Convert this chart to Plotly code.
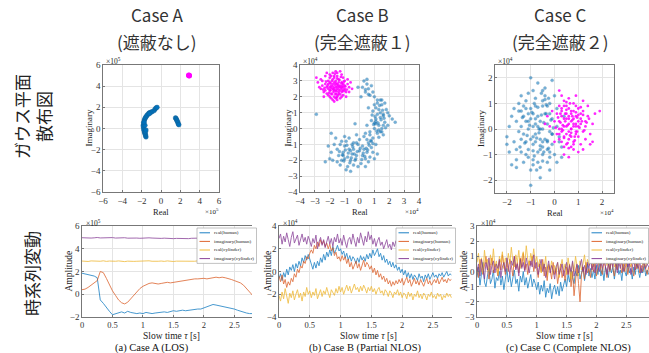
import plotly.graph_objects as go

# ---------------- DATA ----------------
# Case A scatter (x1e5)
A_hum_re = [-1.55,-1.6,-1.6,-1.65,-1.7,-1.7,-1.75,-1.8,-1.8,-1.85,-1.8,-1.8,-1.75,-1.7,-1.65,-1.6,-1.5,-1.45,-1.35,-1.25,-1.15,-1.0,-0.9,-0.7,-0.6,-0.5,-0.4,-1.6,-1.55,-1.65,-1.75,-1.2,
            1.5,1.55,1.6,1.65,1.7,1.75,1.8,1.85]
A_hum_im = [-0.8,-0.7,-0.6,-0.5,-0.4,-0.3,-0.2,-0.05,0.1,0.25,0.4,0.55,0.7,0.85,0.95,1.05,1.15,1.25,1.35,1.45,1.5,1.55,1.6,1.7,1.85,1.95,2.0,-0.3,-0.15,0.3,0.6,1.4,
            1.0,0.95,0.85,0.75,0.65,0.55,0.4,0.35]
A_cyl_re = [2.9, 2.92, 2.88]
A_cyl_im = [5.0, 4.98, 5.02]

# Case B scatter (x1e4)
B_cyl_re = [-1.6,-1.2,-2.0,-1.8,-1.4,-2.3,-1.0,-1.7,-1.5,-2.1,-1.3,-1.9,-1.1,-2.4,-1.6,-0.8,-2.6,-1.5,-1.2,-2.0,
            -1.8,-1.4,-0.9,-2.2,-1.7,-1.3,-1.9,-1.1,-2.5,-1.6,-0.7,-2.1,-1.4,-1.0,-2.3,-1.8,-1.5,-1.2,-2.0,-1.7,
            -0.6,-2.8,-1.3,-1.9,-1.1,-2.4,-1.6,-0.9,-2.2,-1.5,-1.0,-2.6,-1.8,-1.4,-2.0,-1.2,-0.8,-1.7,-2.3,-1.5,
            -0.5,-2.9,-1.6,-1.9,-1.1,-2.1,-1.3,-1.7,-2.5,-1.0,-1.4,-2.0,-1.8,-1.2,-1.6,-2.7,-0.7,-1.5,-2.2,
            -1.45,-1.75,-1.25,-1.95,-1.55,-1.35,-2.05,-1.65,-1.15,-1.85,-1.5,-2.15,-1.3,-1.7,-0.95,-2.35,-1.6,-1.4,-1.9,-1.2,
            -1.75,-2.0,-1.1,-1.55,-2.25,-1.35,-1.8,-0.85,-1.65,-2.45,-1.45,-1.05,-1.95,-1.25,-1.7,-2.1,-1.5,-1.85,-1.15,-1.6]
B_cyl_im = [2.6,2.9,2.4,3.1,2.2,2.8,2.5,2.0,3.3,3.0,2.7,2.7,2.1,2.3,3.6,2.8,3.1,1.8,3.4,2.0,
            2.5,2.9,2.3,2.6,2.9,2.4,3.3,2.8,2.7,2.2,2.6,2.1,3.1,3.0,3.3,1.8,2.5,2.0,2.9,2.4,
            2.9,2.9,3.6,2.2,2.6,2.0,3.0,2.0,3.5,2.0,2.4,2.5,3.5,2.6,3.2,2.6,3.1,1.7,2.4,2.8,
            2.5,3.2,2.4,1.9,3.2,2.5,1.9,3.3,3.0,2.7,2.3,2.6,2.8,2.3,1.9,2.6,2.3,3.5,2.2,
            2.75,2.45,2.55,2.85,2.35,3.05,2.25,2.75,2.45,2.15,3.15,2.7,2.15,3.2,2.65,2.55,2.85,2.45,2.55,2.85,
            2.3,3.4,2.35,1.95,2.95,2.65,2.65,2.45,3.45,2.45,2.1,2.95,2.4,3.25,2.55,2.8,2.65,3.0,2.7,2.15]
B_hum_re = [0.3,0.5,0.2,0.6,0.4,0.8,0.1,0.7,0.9,-0.1,0.5,1.0,
            1.2,1.5,1.0,1.8,1.3,1.6,0.9,1.4,2.0,1.1,1.7,1.3,0.8,1.9,1.5,1.0,2.2,1.2,0.7,1.6,0.9,1.4,1.1,1.7,2.4,0.6,1.3,0.5,1.9,1.2,
            0.6,0.3,0.8,0.2,0.5,0.0,0.4,-0.2,0.7,0.1,-0.4,0.3,-0.1,0.6,-0.3,0.9,0.0,0.2,-0.5,0.5,1.1,0.4,-0.1,
            -0.7,-1.0,-0.8,-1.3,-1.1,-0.6,-1.5,-0.9,-1.2,-1.7,-0.5,-1.4,-0.8,-1.9,-1.0,-1.6,-2.0,-1.3,-0.7,-2.1,-0.9,-1.5,-0.4,-1.2,-1.8,-2.3,-0.6,-1.0,-0.2,-2.9,-1.9,-0.3,-0.4,
            1.1,1.4,0.8,1.6,1.2,0.4,1.0,1.5,0.7,-0.2,-0.6,-1.1,
            1.25,1.45,1.05,1.65,1.35,0.95,1.55,1.15,1.75,0.85,1.3,1.5,1.1,0.75,0.45,0.65,0.25,0.35,0.05,-0.15,
            -0.35,-0.55,-0.75,-0.95,-1.15,-1.35,-0.65,-0.85,-0.25,0.15,0.55,0.9,1.2,1.6,1.4,0.4,0.6,-1.05,-0.45,1.0]
B_hum_im = [3.0,2.8,2.6,2.5,2.3,2.7,2.0,2.1,2.3,2.6,3.1,2.0,
            1.8,1.5,1.5,1.2,1.2,0.9,1.1,0.7,0.8,0.6,0.4,0.2,0.5,0.2,0.0,0.0,0.6,-0.3,-0.2,-0.4,-0.6,1.0,1.3,1.6,0.4,1.3,-0.1,0.2,1.0,0.9,
            -0.9,-0.5,-1.2,-1.1,-1.5,-1.4,-1.9,-1.7,-1.8,-2.2,-1.3,-1.3,-1.0,-2.1,-2.0,-1.5,-0.7,-1.7,-1.6,-0.7,-1.0,-2.4,-2.4,
            -1.3,-1.1,-1.8,-1.0,-1.5,-2.0,-1.3,-0.8,-2.0,-1.0,-1.0,-1.7,-2.4,-1.5,-0.5,-0.6,-1.9,-2.3,-0.6,-1.1,-2.6,-2.1,-2.3,-0.8,-2.0,-2.1,-2.7,-1.9,-0.4,0.9,-0.3,0.3,-0.9,
            0.3,-0.2,-0.8,0.8,-1.6,-0.3,-1.9,1.8,-0.4,-0.9,-1.4,-1.7,
            0.35,0.55,0.75,0.65,1.45,0.25,1.15,-0.15,0.05,0.85,-0.55,-0.2,0.45,-0.75,-1.25,-1.05,-1.55,-1.75,-1.25,-1.45,
            -1.6,-1.85,-1.55,-1.35,-1.65,-1.45,-2.15,-1.05,-1.9,-1.95,-1.35,-0.95,1.6,0.2,1.8,2.45,2.15,-2.05,-1.15,0.35]

# Case C scatter (x1e4)
C_hum_re = [-0.6,-1.0,-0.3,-1.3,-0.8,-0.2,-1.5,-0.5,-0.9,-1.7,-0.4,-1.1,-0.7,-1.9,-0.1,-1.2,-0.6,-1.4,-0.3,-0.9,
            -1.6,-0.8,-1.0,-0.5,-1.8,-0.2,-1.1,-0.7,-1.3,-0.4,-0.9,-2.0,-0.6,-1.5,-0.3,-1.2,-0.8,-0.1,-1.7,-0.5,
            -1.0,-0.7,-1.4,-0.2,-1.1,-0.9,-0.6,-1.6,-0.4,-1.3,-0.8,-1.0,-0.5,-1.9,-0.3,-1.2,-0.7,-1.5,-0.2,-1.1,
            -0.9,-0.4,-1.8,-0.6,-1.0,-1.3,-0.1,-0.8,-1.4,-0.5,-2.0,-0.7,-1.2,-0.3,-1.6,-0.9,-0.6,-1.1,0.0,-1.4,
            0.1,-0.2,0.2,0.0,0.3,-0.1,0.1,-1.6,-1.4,-0.5,
            -0.45,-0.75,-0.25,-1.05,-0.55,-0.85,-0.35,-1.25,-0.65,-0.15,-0.95,-0.5,-1.15,-0.3,-0.7,-0.05,-0.9,-0.4,-1.35,-0.6,
            0.2,0.4,0.1,0.3,-0.8,-0.2,-1.0,-0.55,-1.45,-0.35,-0.75,-0.1,-1.2,-0.45,-0.65,-0.9,-0.25,-1.1,-0.5,-0.85]
C_hum_im = [0.0,0.4,-0.5,-0.2,0.9,0.6,0.7,-1.0,-0.6,-0.5,1.3,-1.1,0.5,0.1,-0.2,1.1,-1.5,-0.9,0.2,1.5,
            0.3,-0.2,-1.6,0.9,-1.4,-0.9,0.0,1.8,0.5,-0.4,-1.2,-0.3,0.3,-0.1,-1.3,-0.5,1.2,0.4,0.8,-0.7,
            0.8,-0.9,1.3,1.0,-0.8,0.1,-1.9,-0.8,0.6,-1.3,-0.5,2.0,0.0,-0.9,-0.8,0.3,-1.3,1.0,-0.1,0.6,
            -0.3,1.6,0.5,-0.4,-2.2,0.9,-0.6,0.4,-0.4,1.1,-0.6,0.1,-1.0,0.9,-1.2,0.6,-0.8,1.4,-1.0,0.1,
            0.8,-1.6,-0.5,1.3,-1.1,1.9,-1.3,-1.5,0.7,1.5,
            0.25,-0.35,-0.75,0.15,0.55,-1.05,0.95,-0.55,-0.15,0.35,0.65,-1.25,-0.25,-0.45,0.85,0.05,-0.85,1.15,0.45,-0.65,
            -0.3,0.5,0.1,-0.7,0.2,-1.1,-0.4,1.4,-0.7,0.6,-1.6,-0.2,0.8,-0.9,0.0,-1.4,1.2,0.3,-0.5,1.0]
C_cyl_re = [0.6,0.3,0.9,0.4,1.1,0.7,0.2,0.8,1.3,0.5,0.0,1.0,0.6,0.3,1.2,0.7,0.4,0.9,1.5,0.5,
            0.1,0.8,1.1,0.6,0.2,1.4,0.9,0.4,0.7,1.6,0.3,1.0,0.5,-0.1,0.8,1.2,0.6,0.2,1.3,0.7,
            -0.2,0.9,0.4,1.1,0.5,1.7,0.3,0.8,1.0,0.6,0.1,1.4,0.7,1.9,0.2,1.2,0.5,0.9,-0.3,0.4,
            1.5,0.8,0.3,1.1,0.6,0.0,1.3,0.7,0.2,1.0,0.5,1.6,0.8,-0.4,1.2,0.4,0.9,0.6,1.0,0.3,
            0.55,0.75,0.35,0.95,0.65,0.45,1.05,0.25,0.85,0.5,1.15,0.7,0.15,0.9,0.6,1.25,0.4,0.8,0.3,1.0,
            0.55,0.2,1.35,0.65,0.45,0.85,0.05,1.1,0.75,0.35,0.95,0.5,1.2,0.6,0.25,0.9,0.7,1.45,0.4,0.8]
C_cyl_im = [0.2,0.5,-0.1,-0.3,0.4,0.7,0.0,-0.5,0.1,0.9,0.3,-0.3,-0.1,0.8,0.7,0.3,0.1,0.5,-0.2,-0.6,
            0.6,1.0,-0.6,0.5,-0.4,0.5,0.2,1.1,-0.3,0.2,-0.1,0.8,0.4,0.7,-0.8,-0.1,1.2,0.3,-0.4,0.0,
            0.1,0.9,-0.7,0.2,0.1,0.6,1.3,0.4,-0.9,-0.4,-0.2,0.9,0.6,0.7,0.9,1.1,-0.2,-0.2,0.5,0.4,
            -0.6,0.1,-0.5,0.6,0.8,-0.5,0.3,-0.7,1.5,0.1,0.6,-0.5,0.7,0.2,-0.8,-1.0,1.3,-1.1,0.3,0.0,
            0.15,0.35,-0.05,0.45,-0.25,0.6,0.05,0.25,-0.45,0.75,0.3,-0.15,0.45,0.65,0.4,-0.05,-0.35,0.2,0.7,0.55,
            -0.55,-0.2,0.25,1.0,0.3,-0.3,0.05,0.85,0.5,0.15,-0.1,1.05,0.55,-0.75,0.6,0.1,0.0,0.4,0.9,-0.6]

# Time series (sampling step in seconds)
dtA = 0.05
A_re_hum = [1.85,1.8,1.75,1.7,1.6,1.45,-0.5,-0.8,-1.2,-1.5,-1.8,-1.7,-1.6,-1.55,-1.65,-1.5,-1.6,-1.65,-1.7,-1.65,
            -1.7,-1.6,-1.65,-1.7,-1.65,-1.6,-1.6,-1.55,-1.6,-1.55,-1.45,-1.5,-1.45,-1.4,-1.45,-1.4,-1.35,-1.35,-1.3,-1.3,
            -1.2,-1.1,-1.0,-0.9,-0.95,-1.0,-1.05,-1.1,-1.2,-1.25,-1.3,-1.4,-1.5,-1.6,-1.65,-1.7,-1.7]
A_im_hum = [0.4,0.45,0.6,0.8,1.0,1.2,2.0,1.9,1.4,0.8,0.3,-0.1,-0.5,-0.75,-0.85,-0.7,-0.4,-0.1,0.2,0.5,
            0.7,0.85,0.95,1.0,0.95,0.9,0.95,1.0,1.05,1.0,1.05,1.1,1.1,1.15,1.2,1.25,1.3,1.35,1.35,1.4,
            1.4,1.35,1.4,1.45,1.5,1.45,1.5,1.45,1.4,1.3,1.2,1.1,1.0,0.8,0.5,0.2,-0.1]
A_re_cyl = [2.92,2.9,2.88,2.93,2.91,2.87,2.9,2.94,2.89,2.92,2.88,2.9,2.93,2.9,2.87,2.91,2.93,2.89,2.9,2.92,
            2.88,2.91,2.94,2.9,2.87,2.9,2.92,2.89,2.93,2.9,2.88,2.91,2.9,2.93,2.89,2.87,2.91,2.9,2.94,2.88,
            2.9,2.92,2.89,2.91,2.93,2.88,2.9,2.92,2.87,2.9,2.91,2.93,2.89,2.9,2.92,2.88,2.9]
A_im_cyl = [4.97,4.95,4.98,4.94,4.96,4.99,4.95,4.97,4.93,4.96,4.98,4.94,4.96,4.95,4.97,4.93,4.95,4.96,4.94,4.92,
            4.95,4.93,4.96,4.94,4.92,4.95,4.91,4.93,4.9,4.92,4.89,4.91,4.9,4.88,4.91,4.89,4.92,4.9,4.93,4.95,
            4.94,4.96,4.95,4.97,4.94,4.96,4.98,4.95,4.97,4.94,4.96,4.95,4.97,4.94,4.96,4.95,4.97]

dtB = 0.025
B_re_hum = [-0.6,-0.2,-0.8,-0.1,-0.5,0.2,-0.3,0.4,0.1,0.6,0.0,0.7,0.3,0.9,0.5,1.2,0.8,1.4,1.0,1.5,1.1,
            0.6,0.2,0.8,0.3,0.9,0.5,1.2,0.8,1.5,1.0,1.7,1.3,1.9,1.4,2.2,1.6,1.9,2.3,1.8,
            2.0,1.5,1.8,1.2,1.6,1.0,1.4,0.9,1.3,1.1,0.7,1.2,0.8,1.4,1.0,1.3,0.9,1.5,1.1,
            1.6,1.2,1.9,1.4,1.7,2.0,1.3,1.6,1.0,1.4,0.8,1.1,0.6,0.9,0.4,0.8,0.3,0.6,0.1,
            0.4,-0.1,0.2,-0.3,0.1,-0.5,-0.1,-0.6,-0.2,-0.7,-0.3,-0.5,-0.8,-0.2,-0.6,-0.4,-0.9,-0.3,-0.6,-0.2,
            -0.7,-0.4,-0.1,-0.5,-0.3,-0.6,-0.2,-0.4,-0.1,-0.5,-0.3,0.0,-0.4,-0.2,-0.3]
B_im_hum = [-0.4,-0.9,-0.3,-1.1,-0.7,-1.4,-0.9,-1.2,-0.6,-0.9,-0.2,-0.5,0.2,-0.1,0.5,0.3,0.9,0.7,1.3,1.1,1.6,
            1.9,1.6,2.3,2.0,2.6,2.2,2.8,2.4,2.7,2.2,2.5,2.0,2.4,1.8,2.1,1.4,1.7,1.1,1.3,
            0.9,1.4,1.0,1.3,0.7,1.1,0.4,0.8,0.2,0.6,0.9,0.3,0.7,0.1,0.5,1.0,0.4,0.8,0.6,
            0.2,0.5,-0.1,0.3,-0.3,0.1,-0.5,-0.2,-0.7,-0.4,-0.9,-0.6,-1.1,-0.8,-1.3,-0.9,-1.2,-0.8,-1.1,
            -0.7,-1.0,-0.6,-1.2,-0.8,-0.5,-1.0,-0.7,-1.3,-0.9,-0.6,-1.1,-0.8,-1.2,-0.7,-1.0,-1.3,-0.9,-0.6,-1.1,
            -0.8,-1.2,-0.9,-0.7,-1.0,-0.6,-1.1,-0.8,-0.5,-0.9,-0.7,-1.0,-0.6,-0.8,-0.7]
B_re_cyl = [-2.1,-2.6,-1.8,-2.4,-1.5,-2.2,-2.8,-1.9,-2.3,-1.7,-2.5,-2.0,-1.6,-2.3,-1.9,-2.6,-1.8,-2.2,-1.4,-2.0,-1.7,
            -2.3,-1.8,-2.1,-1.5,-2.4,-1.9,-1.6,-2.2,-1.7,-2.0,-1.4,-1.9,-2.3,-1.6,-1.8,-2.1,-1.5,-1.9,-1.3,
            -1.8,-1.4,-2.0,-1.6,-1.2,-1.7,-1.3,-1.9,-1.5,-1.1,-1.6,-1.4,-1.8,-1.3,-1.7,-1.2,-1.5,-1.9,-1.4,
            -1.7,-1.3,-1.8,-1.5,-2.0,-1.6,-1.4,-1.9,-1.7,-2.1,-1.6,-1.8,-2.2,-1.7,-1.9,-2.3,-1.8,-2.0,-1.6,
            -2.1,-1.8,-2.3,-1.9,-2.0,-2.4,-1.8,-2.2,-1.9,-2.5,-2.0,-2.2,-1.7,-2.3,-2.0,-2.4,-1.9,-2.1,-2.5,-2.0,
            -2.2,-1.8,-2.3,-2.1,-2.4,-1.9,-2.2,-2.0,-2.5,-2.1,-2.3,-1.9,-2.2,-2.0,-2.3]
B_im_cyl = [2.9,3.3,2.4,3.1,2.6,3.4,2.8,2.2,3.0,3.5,2.5,2.9,3.2,2.3,2.8,3.3,2.6,3.0,2.4,3.1,2.7,
            2.2,2.9,2.5,3.2,2.0,2.6,3.0,2.3,2.8,2.1,2.7,3.1,2.4,2.9,2.2,3.0,2.6,3.3,2.5,
            2.9,2.3,3.2,2.6,2.1,2.8,3.0,2.4,3.3,2.7,2.2,3.0,2.5,3.4,2.8,2.3,3.1,2.6,3.5,
            2.8,3.2,2.4,2.9,2.2,2.7,3.0,2.3,2.6,2.0,2.5,2.8,2.1,2.4,1.9,2.6,2.2,2.7,2.3,
            2.5,2.1,2.8,2.3,2.6,2.0,2.4,2.7,2.2,2.5,2.9,2.3,2.6,2.1,2.4,2.8,2.2,2.5,2.0,2.6,
            2.3,2.7,2.1,2.4,2.8,2.2,2.5,2.3,2.6,2.0,2.4,2.2,2.5,2.1,2.4]

dtC = 0.025
C_re_hum = [-0.4,0.3,-0.9,-0.2,0.6,-0.7,-1.0,-0.3,0.2,-0.8,-0.5,0.1,-1.1,-0.4,-0.6,0.0,-0.9,-0.3,-1.2,-0.5,0.2,
            -0.7,-0.2,-1.0,-0.4,0.1,-0.8,-0.5,-1.3,-0.3,-0.7,0.0,-0.9,-0.4,-1.1,-0.6,-0.2,-1.0,-0.5,-0.8,
            -1.2,-0.7,-1.5,-0.9,-1.3,-0.6,-1.7,-1.1,-1.4,-0.8,-1.8,-1.2,-0.9,-1.5,-1.0,-1.6,-0.7,-1.3,-0.9,
            -0.5,-1.0,-0.2,-0.7,0.1,-0.4,-0.8,0.0,-0.3,0.4,-0.5,-0.1,0.3,-0.6,0.0,0.5,-0.3,0.2,-0.4,
            0.1,-0.5,0.4,-0.2,0.6,-0.3,0.2,-0.6,0.3,0.0,-0.4,0.5,-0.1,0.3,-0.5,0.2,0.7,-0.2,0.1,-0.6,
            0.4,0.0,-0.3,0.5,-0.1,0.2,-0.5,0.3,-0.2,0.6,0.0,-0.4,0.2,-0.1,0.4,-0.3,0.1,-0.2]
C_im_hum = [0.3,-0.4,0.8,0.1,-0.2,0.6,1.0,0.2,-0.5,0.4,0.9,-0.1,0.5,0.2,-0.3,0.7,0.1,1.1,0.3,-0.2,0.6,
            0.0,0.8,0.4,-0.3,1.0,0.2,0.6,-0.1,0.9,0.3,1.2,0.1,0.5,-0.2,0.7,0.4,1.0,0.0,0.6,
            0.2,-0.4,0.5,0.0,0.8,-0.3,0.3,-0.6,0.4,0.1,-0.5,0.6,-0.2,0.2,-0.8,0.0,0.5,-0.4,0.1,
            -0.6,0.3,-0.2,0.5,-1.0,0.0,-1.6,-0.3,0.4,-0.8,-2.0,-0.2,0.3,-0.5,0.6,-0.1,0.2,-0.4,0.5,
            0.0,0.6,-0.3,0.4,0.9,0.1,-0.2,0.7,0.3,-0.4,0.5,0.0,0.8,0.2,-0.3,0.6,0.1,1.0,0.3,-0.1,
            0.5,0.0,0.7,-0.2,0.4,0.9,0.1,-0.3,0.6,0.2,0.8,-0.1,0.4,0.0,0.5,0.2,-0.2,0.3]
C_re_cyl = [0.6,1.2,0.2,0.9,-0.1,1.4,0.5,0.8,0.0,1.1,0.4,1.5,0.3,0.7,-0.2,1.0,0.6,1.3,0.2,0.9,0.4,
            1.2,0.5,1.6,0.7,0.3,1.1,0.6,1.4,0.2,0.9,1.3,0.5,1.7,0.8,0.4,1.2,0.7,1.5,0.6,
            1.0,0.3,0.8,-0.1,0.6,0.2,1.0,-0.3,0.5,0.1,0.7,-0.2,0.4,0.0,0.6,-0.4,0.3,0.8,0.1,
            0.5,-0.2,0.9,0.2,-0.5,0.6,0.0,1.0,0.3,-0.3,0.7,0.1,0.5,1.1,0.2,0.8,0.4,1.2,0.6,
            0.3,1.0,0.5,1.3,0.7,0.2,1.1,0.6,1.4,0.4,0.9,0.1,0.8,1.2,0.3,0.7,1.0,0.5,1.3,0.6,
            0.2,0.9,0.4,1.1,0.7,0.3,1.0,0.5,0.8,0.2,0.9,0.6,1.2,0.4,0.7,0.3,0.8,0.5]
C_im_cyl = [0.0,0.5,-0.3,0.8,0.2,-0.5,0.6,0.1,0.9,-0.2,0.4,0.7,-0.1,0.5,0.2,0.8,-0.4,0.3,0.6,0.0,0.9,
            0.3,-0.2,0.7,0.4,1.0,0.1,0.5,-0.3,0.8,0.2,0.6,0.0,0.9,0.4,-0.1,0.7,0.3,1.1,0.2,
            0.6,-0.2,0.4,0.8,0.0,0.5,-0.4,0.3,0.7,-0.1,0.4,0.1,-0.5,0.3,0.6,-0.2,0.2,0.5,-0.3,
            0.1,0.6,-0.2,0.4,0.0,0.7,-0.3,0.2,0.5,-0.1,0.3,0.8,0.0,0.4,-0.2,0.6,0.2,0.9,0.1,
            0.5,-0.1,0.7,0.3,0.0,0.6,0.2,0.9,0.4,-0.2,0.5,0.1,0.8,0.3,1.0,0.4,-0.1,0.6,0.2,0.7,
            0.0,0.5,0.9,0.3,0.6,-0.2,0.4,0.8,0.1,0.5,0.2,0.7,-0.1,0.4,0.6,0.2,0.5,0.3]

series_names = ["real(human)", "imaginary(human)", "real(cylinder)", "imaginary(cylinder)"]
case_titles = ["Case A", "Case B", "Case C"]
case_subtitles = ["(遮蔽なし)", "(完全遮蔽１)", "(完全遮蔽２)"]
captions = ["(a) Case A (LOS)", "(b) Case B (Partial NLOS)", "(c) Case C (Complete NLOS)"]
row_labels = ["ガウス平面<br>散布図", "時系列変動"]

# ---------------- STYLE ----------------
W, H = 649, 353
BLUE, ORANGE, YELLOW, PURPLE, MAG = "#0072BD", "#D95319", "#EDB120", "#7E2F8E", "#FF00FF"
LINE_COLORS = [BLUE, ORANGE, YELLOW, PURPLE]
SERIF = "Liberation Serif, Times New Roman, serif"
JP = "Noto Sans CJK JP, sans-serif"

def fx(p):
    return p / W

def fy(p):
    return 1 - p / H

fig = go.Figure()

def add_scatter(idx, hx, hy, cx, cy, hsize, csize, hop, cop):
    xa, ya = ("x" if idx == 1 else f"x{idx}"), ("y" if idx == 1 else f"y{idx}")
    fig.add_trace(go.Scatter(x=hx, y=hy, mode="markers", xaxis=xa, yaxis=ya, showlegend=False,
                             marker=dict(color=BLUE, size=hsize, opacity=hop,
                                         line=dict(width=0.4, color="#1a5f8f"))))
    fig.add_trace(go.Scatter(x=cx, y=cy, mode="markers", xaxis=xa, yaxis=ya, showlegend=False,
                             marker=dict(color=MAG, size=csize, opacity=cop, line=dict(width=0))))

add_scatter(1, A_hum_re, A_hum_im, A_cyl_re, A_cyl_im, 4.6, 5.5, 0.95, 1.0)
add_scatter(2, B_hum_re, B_hum_im, B_cyl_re, B_cyl_im, 3.0, 2.8, 0.55, 0.85)
add_scatter(3, C_hum_re, C_hum_im, C_cyl_re, C_cyl_im, 3.0, 2.8, 0.55, 0.85)

ts = [
    (4, dtA, [A_re_hum, A_im_hum, A_re_cyl, A_im_cyl]),
    (5, dtB, [B_re_hum, B_im_hum, B_re_cyl, B_im_cyl]),
    (6, dtC, [C_re_hum, C_im_hum, C_re_cyl, C_im_cyl]),
]
for idx, dt, sers in ts:
    for name, col, vals in zip(series_names, LINE_COLORS, sers):
        fig.add_trace(go.Scatter(y=vals, x0=0, dx=dt, mode="lines", name=name, showlegend=False,
                                 xaxis=f"x{idx}", yaxis=f"y{idx}",
                                 line=dict(color=col, width=0.9), opacity=0.8))

tickfont = dict(family=SERIF, size=9, color="#333")
axis_common = dict(showgrid=True, gridcolor="#e4e4e4", gridwidth=0.6, zeroline=False,
                   showline=True, linecolor="#777", linewidth=0.6, ticks="inside",
                   ticklen=2, tickcolor="#777", tickfont=tickfont)

sc_axes = [
    ((103, 219), (65, 192), [-6, 6], [-6, 6], 2, 2),
    ((300, 419), (65, 192), [-4, 4], [-4, 4], 1, 1),
    ((495, 614), (65, 193), [-2.5, 2.5], [-2.5, 2.5], 1, 1),
]
ts_axes = [
    ((82, 252), (226, 317), [0, 2.79], [-2, 6], 2),
    ((279, 452), (226, 317), [0, 2.81], [-4, 4], 2),
    ((477, 649), (226, 317), [0, 2.88], [-3, 3], 1),
]
layout = {}
for i, (xd, yd, xr, yr, dx, dy) in enumerate(sc_axes, start=1):
    kx = "xaxis" if i == 1 else f"xaxis{i}"
    ky = "yaxis" if i == 1 else f"yaxis{i}"
    layout[kx] = dict(axis_common, domain=[fx(xd[0]), fx(xd[1])], range=xr, dtick=dx, tick0=0,
                      mirror=True, anchor="y" if i == 1 else f"y{i}")
    layout[ky] = dict(axis_common, domain=[fy(yd[1]), fy(yd[0])], range=yr, dtick=dy, tick0=0,
                      mirror=True, anchor="x" if i == 1 else f"x{i}")
for j, (xd, yd, xr, yr, dy) in enumerate(ts_axes, start=4):
    layout[f"xaxis{j}"] = dict(axis_common, domain=[fx(xd[0]), fx(xd[1])], range=xr, dtick=0.5,
                               tick0=0, mirror=True, anchor=f"y{j}",
                               tickfont=dict(family=SERIF, size=8.5, color="#333"))
    layout[f"yaxis{j}"] = dict(axis_common, domain=[fy(yd[1]), fy(yd[0])], range=yr, dtick=dy,
                               tick0=0, mirror=False, anchor=f"x{j}")

annotations = []
shapes = []

def ann(text, xp, yp, size, family=SERIF, angle=0, color="#222", xanchor="center", yanchor="middle"):
    annotations.append(dict(text=text, x=fx(xp), y=fy(yp), xref="paper", yref="paper",
                            showarrow=False, textangle=angle, xanchor=xanchor, yanchor=yanchor,
                            font=dict(family=family, size=size, color=color)))

# column titles
for t, s, xc in zip(case_titles, case_subtitles, [157, 362, 560]):
    ann(t, xc, 15, 17, family=JP, color="#333")
    ann(s, xc, 41.5, 17, family=JP, color="#333")
# row labels
ann(row_labels[0], 33, 117, 17, family=JP, angle=-90, color="#222")
ann(row_labels[1], 31, 274, 17, family=JP, angle=-90, color="#222")

# scatter axis titles and exponents
for (xd, yd, _, _, _, _), ylab_x, exp in zip(sc_axes, [88, 287, 481], ["5", "4", "4"]):
    ann("Imaginary", ylab_x, (yd[0] + yd[1]) / 2, 9, angle=-90)
    ann("Real", (xd[0] + xd[1]) / 2, yd[1] + 19.5, 8.5)
    ann(f"×10<sup>{exp}</sup>", xd[0] + 1, yd[0] - 4, 7.5, xanchor="left")
    ann(f"×10<sup>{exp}</sup>", xd[1] + 2, yd[1] + 19.5, 7, xanchor="right")

# time series titles, exponent, captions
for (xd, yd, _, _, _), ax, stx, exp in zip(ts_axes, [68, 267, 463], [171, 368, 564], ["5", "4", "4"]):
    ann("Amplitude", ax, (yd[0] + yd[1]) / 2, 9.5, angle=-90)
    ann("Slow time <i>τ</i> [s]", stx, 335.5, 9.5)
    ann(f"×10<sup>{exp}</sup>", xd[0] + 2, yd[0] - 3, 7.5, xanchor="left")
for c, capx in zip(captions, [152, 365, 568]):
    ann(c, capx, 347.8, 10.5, color="#111")

# compact legends (one per time-series panel)
for lx in [197, 396, 589]:
    ly0, step = 228, 8.6
    shapes.append(dict(type="rect", xref="paper", yref="paper", x0=fx(lx), x1=fx(lx + 59.5),
                       y0=fy(ly0 + 4 * step + 1), y1=fy(ly0), line=dict(color="#999", width=0.6),
                       fillcolor="white", layer="above"))
    for k, (name, col) in enumerate(zip(series_names, LINE_COLORS)):
        yy = ly0 + step * (k + 0.5) + 0.5
        shapes.append(dict(type="line", xref="paper", yref="paper", x0=fx(lx + 2.5), x1=fx(lx + 13),
                           y0=fy(yy), y1=fy(yy), line=dict(color=col, width=0.9), layer="above"))
        ann(name, lx + 14.5, yy, 5, xanchor="left", color="#222")

fig.update_layout(width=W, height=H, margin=dict(l=0, r=0, t=0, b=0, autoexpand=False),
                  paper_bgcolor="white", plot_bgcolor="white", annotations=annotations,
                  shapes=shapes, showlegend=False, **layout)

fig.write_html("out.html")
